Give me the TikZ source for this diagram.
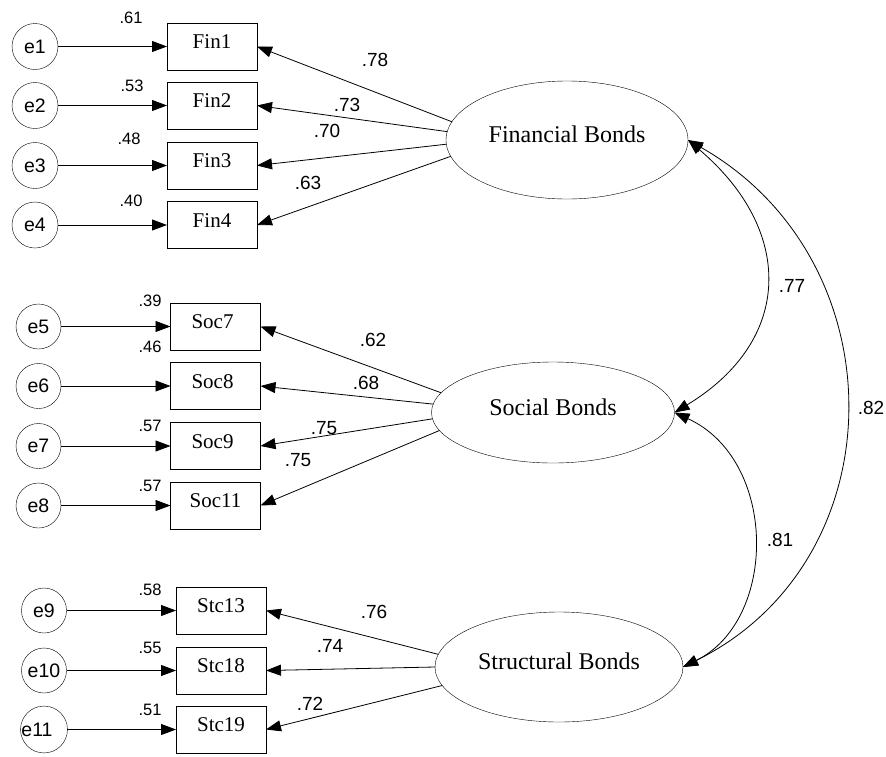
\documentclass[tikz,border=0pt]{standalone}
\usepackage{fontspec}
\setmainfont{Liberation Serif}
\newfontfamily\arialfont{Liberation Sans}
\usetikzlibrary{arrows.meta,shapes.geometric}

\begin{document}
\begin{tikzpicture}[x=1pt,y=-1pt,
  every node/.style={inner sep=0pt, outer sep=0pt},
  obs/.style={draw, rectangle, minimum width=90pt, minimum height=47pt,
    font=\fontsize{21}{21}\selectfont, text height=14pt, text depth=10pt},
  lat/.style={draw, ellipse, font=\fontsize{24}{24}\selectfont,
    text height=18pt, text depth=13pt},
  err/.style={draw, circle, minimum size=45pt, font=\arialfont\fontsize{19.5}{19.5}\selectfont},
  coef/.style={font=\arialfont\fontsize{19}{19}\selectfont},
  ecoef/.style={font=\arialfont\fontsize{16.5}{16.5}\selectfont},
  tip/.tip={Triangle[length=15pt,width=11pt]},
  link/.style={-tip, line width=0.8pt},
  cov/.style={tip-tip, line width=0.8pt},
]
\useasboundingbox (0,0) rectangle (886,756);

% latent factors
\node[lat, minimum width=242pt, minimum height=118pt] (fin) at (567,140) {Financial Bonds};
\node[lat, minimum width=243pt, minimum height=101pt] (soc) at (553,412.5) {Social Bonds};
\node[lat, minimum width=248pt, minimum height=110pt] (stc) at (559,667) {Structural Bonds};

% financial indicators
\node[obs] (fin1) at (212,46.5) {Fin1};
\node[obs] (fin2) at (212,105.5) {Fin2};
\node[obs] (fin3) at (212,165.5) {Fin3};
\node[obs] (fin4) at (212,225) {Fin4};
\node[err, minimum size=46pt] (e1) at (35,46.5) {e1};
\node[err, minimum size=46pt] (e2) at (35,105.5) {e2};
\node[err, minimum size=46pt] (e3) at (35,165.5) {e3};
\node[err, minimum size=46pt] (e4) at (35,225) {e4};

% social indicators
\node[obs] (soc7) at (215.5,326.5) {Soc7\hspace*{6pt}};
\node[obs] (soc8) at (215.5,386) {Soc8\hspace*{6pt}};
\node[obs] (soc9) at (215.5,446) {Soc9\hspace*{6pt}};
\node[obs] (soc11) at (215.5,505.5) {Soc11};
\node[err] (e5) at (38.5,326.5) {e5};
\node[err] (e6) at (38.5,386) {e6};
\node[err] (e7) at (38.5,446) {e7};
\node[err] (e8) at (38.5,505.5) {e8};

% structural indicators
\node[obs] (stc13) at (221,610.5) {Stc13};
\node[obs] (stc18) at (221,670.5) {Stc18};
\node[obs] (stc19) at (221,729.5) {Stc19};
\node[err] (e9) at (44,610.5) {e9};
\node[err] (e10) at (44,670.5) {e10};
\node[err] (e11) at (44,729.5) {e11\hspace*{14pt}};

% error paths
\foreach \e/\v in {e1/fin1,e2/fin2,e3/fin3,e4/fin4,e5/soc7,e6/soc8,e7/soc9,e8/soc11,e9/stc13,e10/stc18,e11/stc19}
  \draw[link] (\e) -- (\v);

% loadings
\draw[link] (fin.171) -- (fin1.east);
\draw[link] (fin.176) -- (fin2.east);
\draw[link] (fin.182) -- (fin3.east);
\draw[link] (fin.188) -- (fin4.east);
\draw[link] (soc.170.6) -- (soc7.east);
\draw[link] (soc.176.7) -- (soc8.east);
\draw[link] (soc.183.3) -- (soc9.east);
\draw[link] (soc.189.9) -- (soc11.east);
\draw[link] (stc.174.3) -- (stc13.east);
\draw[link] (stc.180) -- (stc18.east);
\draw[link] (stc.189.5) -- (stc19.east);

% factor covariances
\draw[cov] (fin.east) .. controls (794,230) and (794,340) .. (soc.east);
\draw[cov] (fin.east) .. controls (899,260) and (899,560) .. (stc.east);
\draw[cov] (soc.east) .. controls (778,460) and (778,620) .. (stc.east);

% squared multiple correlations
\node[ecoef] (r1) at (131,18) {.61};
\node[ecoef] (r2) at (132,86) {.53};
\node[ecoef] (r3) at (129,139) {.48};
\node[ecoef] (r4) at (131,201) {.40};
\node[ecoef] (r5) at (150,301) {.39};
\node[ecoef] (r6) at (150,347) {.46};
\node[ecoef] (r7) at (150,426) {.57};
\node[ecoef] (r8) at (150,486) {.57};
\node[ecoef] (r9) at (150,590) {.58};
\node[ecoef] (r10) at (150,648) {.55};
\node[ecoef] (r11) at (150,710) {.51};

% standardized loadings
\node[coef] (l1) at (375,60) {.78};
\node[coef] (l2) at (347,105) {.73};
\node[coef] (l3) at (327,131) {.70};
\node[coef] (l4) at (308,183) {.63};
\node[coef] (l5) at (373,340) {.62};
\node[coef] (l6) at (366,383) {.68};
\node[coef] (l7) at (324,428) {.75};
\node[coef] (l8) at (298,460) {.75};
\node[coef] (l9) at (374,612) {.76};
\node[coef] (l10) at (330,646) {.74};
\node[coef] (l11) at (310,704) {.72};

% correlations
\node[coef] (c1) at (792,286) {.77};
\node[coef] (c2) at (871,408) {.82};
\node[coef] (c3) at (780,540) {.81};
\end{tikzpicture}
\end{document}
